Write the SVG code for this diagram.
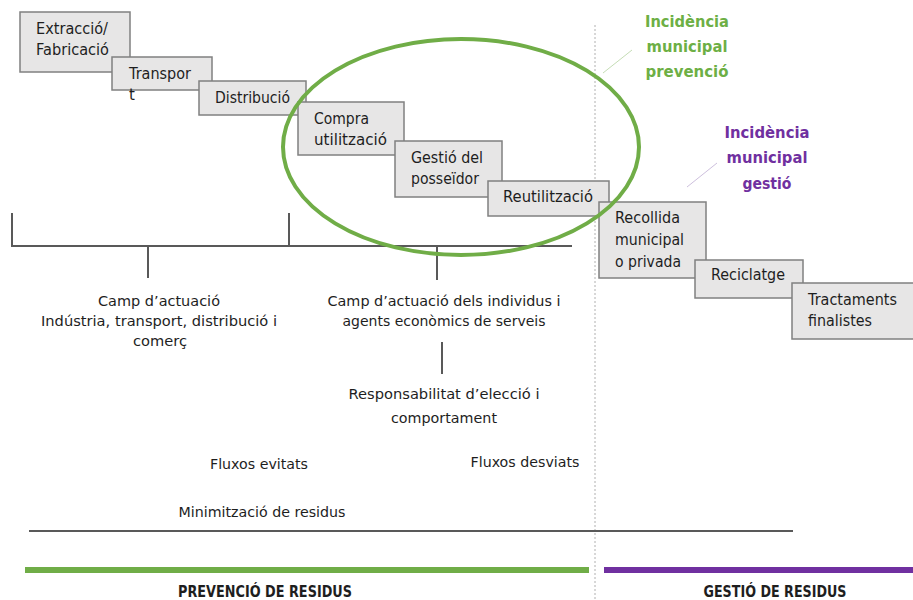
<svg xmlns="http://www.w3.org/2000/svg" width="913" height="600" viewBox="0 0 913 600">
<style>
.box{fill:#E7E6E6;stroke:#808080;stroke-width:1.5}
.t{font-family:"DejaVu Sans",sans-serif;font-size:15px;fill:#1e1e1e}
.c{font-family:"DejaVu Sans",sans-serif;font-size:14.5px;fill:#1e1e1e;text-anchor:middle}
.b{font-family:"DejaVu Sans",sans-serif;font-size:15px;font-weight:bold;fill:#1e1e1e;text-anchor:middle}
.g{font-family:"DejaVu Sans",sans-serif;font-size:15px;font-weight:bold;fill:#6DAF45;text-anchor:middle}
.p{font-family:"DejaVu Sans",sans-serif;font-size:15px;font-weight:bold;fill:#7030A0;text-anchor:middle}
.ln{stroke:#595959;stroke-width:2;fill:none}
</style>
<rect width="913" height="600" fill="#fff"/>
<g id="divider">
<line x1="595" y1="25" x2="595" y2="600" stroke="#b0b0b0" stroke-width="1" stroke-dasharray="2,2"/>
</g>
<g id="connectors">
<path class="ln" d="M12,213 V246 H572"/>
<line class="ln" x1="289" y1="213" x2="289" y2="246"/>
<line class="ln" x1="148" y1="246" x2="148" y2="278"/>
<line class="ln" x1="437" y1="246" x2="437" y2="280"/>
<line class="ln" x1="442" y1="342" x2="442" y2="374"/>
<line class="ln" x1="29" y1="531" x2="793" y2="531"/>
<line x1="603" y1="73" x2="632" y2="50" stroke="#C5DDB5" stroke-width="1"/>
<line x1="687" y1="187" x2="717" y2="163" stroke="#CDBFDD" stroke-width="1"/>
</g>
<g id="n-extraccio">
<rect class="box" x="20" y="12" width="110" height="60"/>
<text class="t" x="36" y="34" textLength="72" lengthAdjust="spacingAndGlyphs">Extracció/</text>
<text class="t" x="36" y="55" textLength="73" lengthAdjust="spacingAndGlyphs">Fabricació</text>
</g>
<g id="n-transport">
<rect class="box" x="112" y="57" width="100" height="33"/>
<text class="t" x="129" y="79" textLength="62" lengthAdjust="spacingAndGlyphs">Transpor</text>
<text class="t" x="129" y="100">t</text>
</g>
<g id="n-distribucio">
<rect class="box" x="199" y="81" width="107" height="34"/>
<text class="t" x="215" y="103" textLength="75" lengthAdjust="spacingAndGlyphs">Distribució</text>
</g>
<g id="n-compra">
<rect class="box" x="298" y="102" width="106" height="53"/>
<text class="t" x="314" y="124" textLength="55" lengthAdjust="spacingAndGlyphs">Compra</text>
<text class="t" x="314" y="145" textLength="73" lengthAdjust="spacingAndGlyphs">utilització</text>
</g>
<g id="n-gestio">
<rect class="box" x="395" y="141" width="107" height="56"/>
<text class="t" x="411" y="163" textLength="72" lengthAdjust="spacingAndGlyphs">Gestió del</text>
<text class="t" x="411" y="184" textLength="68" lengthAdjust="spacingAndGlyphs">posseïdor</text>
</g>
<g id="n-reutilitzacio">
<rect class="box" x="488" y="181" width="121" height="35"/>
<text class="t" x="503" y="202" textLength="90" lengthAdjust="spacingAndGlyphs">Reutilització</text>
</g>
<g id="n-recollida">
<rect class="box" x="599" y="202" width="107" height="76"/>
<text class="t" x="615" y="223" textLength="65" lengthAdjust="spacingAndGlyphs">Recollida</text>
<text class="t" x="615" y="245" textLength="69" lengthAdjust="spacingAndGlyphs">municipal</text>
<text class="t" x="615" y="267" textLength="66" lengthAdjust="spacingAndGlyphs">o privada</text>
</g>
<g id="n-reciclatge">
<rect class="box" x="695" y="260" width="108" height="38"/>
<text class="t" x="711" y="280" textLength="74" lengthAdjust="spacingAndGlyphs">Reciclatge</text>
</g>
<g id="n-tractaments">
<rect class="box" x="792" y="283" width="125" height="56"/>
<text class="t" x="808" y="305" textLength="89" lengthAdjust="spacingAndGlyphs">Tractaments</text>
<text class="t" x="808" y="326" textLength="64" lengthAdjust="spacingAndGlyphs">finalistes</text>
</g>
<g id="ellipse">
<ellipse cx="461" cy="147" rx="178" ry="108" fill="none" stroke="#70AD47" stroke-width="4"/>
</g>
<g id="labels">
<text class="g" x="687" y="27" textLength="84" lengthAdjust="spacingAndGlyphs">Incidència</text>
<text class="g" x="687" y="52" textLength="81" lengthAdjust="spacingAndGlyphs">municipal</text>
<text class="g" x="687" y="77" textLength="83" lengthAdjust="spacingAndGlyphs">prevenció</text>
<text class="p" x="767" y="138" textLength="85" lengthAdjust="spacingAndGlyphs">Incidència</text>
<text class="p" x="767" y="163" textLength="81" lengthAdjust="spacingAndGlyphs">municipal</text>
<text class="p" x="767" y="189" textLength="49" lengthAdjust="spacingAndGlyphs">gestió</text>
<text class="c" x="159" y="306" textLength="122" lengthAdjust="spacingAndGlyphs">Camp d’actuació</text>
<text class="c" x="159" y="326" textLength="236" lengthAdjust="spacingAndGlyphs">Indústria, transport, distribució i</text>
<text class="c" x="160" y="346" textLength="54" lengthAdjust="spacingAndGlyphs">comerç</text>
<text class="c" x="444" y="306" textLength="233" lengthAdjust="spacingAndGlyphs">Camp d’actuació dels individus i</text>
<text class="c" x="444" y="326" textLength="203" lengthAdjust="spacingAndGlyphs">agents econòmics de serveis</text>
<text class="c" x="444" y="399" textLength="191" lengthAdjust="spacingAndGlyphs">Responsabilitat d’elecció i</text>
<text class="c" x="444" y="423" textLength="106" lengthAdjust="spacingAndGlyphs">comportament</text>
<text class="c" x="259" y="469" textLength="98" lengthAdjust="spacingAndGlyphs">Fluxos evitats</text>
<text class="c" x="525" y="467" textLength="109" lengthAdjust="spacingAndGlyphs">Fluxos desviats</text>
<text class="c" x="262" y="517" textLength="167" lengthAdjust="spacingAndGlyphs">Minimització de residus</text>
</g>
<g id="bars">
<rect x="25" y="567" width="564" height="6" fill="#70AD47"/>
<rect x="604" y="567" width="309" height="6" fill="#7030A0"/>
<text class="b" x="265" y="597" textLength="174" lengthAdjust="spacingAndGlyphs">PREVENCIÓ DE RESIDUS</text>
<text class="b" x="775" y="597" textLength="143" lengthAdjust="spacingAndGlyphs">GESTIÓ DE RESIDUS</text>
</g>
</svg>
